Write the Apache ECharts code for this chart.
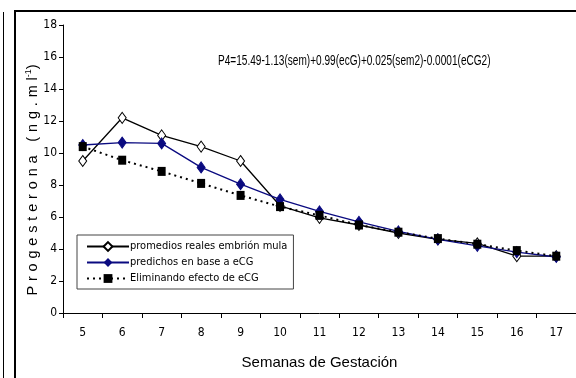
<!DOCTYPE html>
<html>
<head>
<meta charset="utf-8">
<script src="https://cdn.jsdelivr.net/npm/echarts@6/dist/echarts.min.js"></script>
<style>
  html, body { margin: 0; padding: 0; background: #fff; }
  #wrap { position: relative; width: 576px; height: 378px; overflow: hidden; }
  #chart { width: 576px; height: 378px; }
  #marco { position: absolute; left: 14px; top: 10px; width: 600px; height: 400px;
           border-left: 2px solid #000; border-top: 2px solid #000; pointer-events: none; }
  #borde { position: absolute; left: 3px; top: 12px; width: 1px; height: 400px;
           background: #000; pointer-events: none; }
</style>
</head>
<body>
<div id="wrap">
  <div id="chart"></div>
  <div id="marco"></div>
  <div id="borde"></div>
</div>
<script>
// semanas de gestacion
var semanas = ['5', '6', '7', '8', '9', '10', '11', '12', '13', '14', '15', '16', '17'];
// promedios reales embrion mula
var reales = [9.5, 12.2, 11.1, 10.4, 9.5, 6.7, 5.95, 5.5, 5.0, 4.6, 4.35, 3.55, 3.55];
// predichos en base a eCG
var predichos = [10.5, 10.65, 10.6, 9.1, 8.05, 7.1, 6.35, 5.7, 5.1, 4.6, 4.2, 3.8, 3.5];
// eliminando efecto de eCG
var eliminando = [10.4, 9.55, 8.85, 8.1, 7.35, 6.65, 6.1, 5.5, 5.05, 4.65, 4.3, 3.9, 3.55];

var nombres = ['promedios reales embrión mula', 'predichos en base a eCG', 'Eliminando efecto de eCG'];
var ecuacion = 'P4=15.49-1.13(sem)+0.99(ecG)+0.025(sem2)-0.0001(eCG2)';

var fuente = '"DejaVu Sans Condensed", "Liberation Sans Narrow", "Liberation Sans", Arial, sans-serif';
var fuenteArial = '"Liberation Sans", Arial, sans-serif';
var azul = '#0a0a80';

// titulo del eje y con letras separadas
function espaciar(s) {
  return s.split('').join('\u2004');
}

var chart = echarts.init(document.getElementById('chart'));
var option = {
  animation: false,
  textStyle: { fontFamily: fuenteArial },
  grid: { left: 63, top: 25, width: 516, height: 288 },
  legend: {
    orient: 'vertical',
    left: 77, top: 235,
    padding: [6, 6, 5, 9],
    itemGap: 5,
    itemWidth: 42, itemHeight: 11,
    borderColor: '#444', borderWidth: 1,
    backgroundColor: '#fff',
    textStyle: { fontFamily: fuente, fontSize: 11, color: '#000', padding: [0, 0, 0, -4] },
    data: nombres
  },
  xAxis: {
    type: 'category',
    data: semanas,
    boundaryGap: true,
    name: 'Semanas de Gestación',
    nameLocation: 'middle',
    nameGap: 42,
    nameMoveOverlap: false,
    nameTextStyle: { fontSize: 15, color: '#000', fontFamily: fuenteArial },
    axisLine: { lineStyle: { color: '#000', width: 1 } },
    axisTick: { show: true, length: 5, lineStyle: { color: '#000' } },
    axisLabel: { fontSize: 12, color: '#000', margin: 14, fontFamily: fuente },
    splitLine: { show: false }
  },
  yAxis: {
    type: 'value',
    min: 0, max: 18, interval: 2,
    name: espaciar('Progesterona (ng.ml') + '{sup|-1}' + ')',
    nameLocation: 'middle',
    nameGap: 22,
    nameMoveOverlap: false,
    nameRotate: 90,
    nameTextStyle: {
      fontSize: 14.5, color: '#000', fontFamily: fuenteArial,
      padding: [0, 22, 0, 0],
      rich: { sup: { fontSize: 9, verticalAlign: 'top', color: '#000', padding: [0, 0, 8, 0] } }
    },
    axisLine: { show: true, lineStyle: { color: '#000', width: 1 } },
    axisTick: { show: true, length: 4, lineStyle: { color: '#000' } },
    axisLabel: { fontSize: 12, color: '#000', margin: 6, fontFamily: fuente },
    splitLine: { show: false }
  },
  graphic: [
    {
      id: 'ecuacion',
      type: 'text', x: 218, y: 54, scaleX: 0.72,
      style: { text: ecuacion, fontSize: 14, fontFamily: fuenteArial, fill: '#000' }
    }
  ],
  series: [
    {
      name: nombres[0],
      type: 'line',
      data: reales,
      symbol: 'diamond',
      symbolSize: [8, 11],
      color: '#000',
      lineStyle: { color: '#000', width: 1.3 },
      itemStyle: { color: '#fff', borderColor: '#000', borderWidth: 1 },
      z: 3
    },
    {
      name: nombres[1],
      type: 'line',
      data: predichos,
      symbol: 'diamond',
      symbolSize: [8, 11],
      color: azul,
      lineStyle: { color: azul, width: 1.3 },
      itemStyle: { color: azul, borderColor: azul },
      z: 4
    },
    {
      name: nombres[2],
      type: 'line',
      data: eliminando,
      symbol: 'rect',
      symbolSize: [8, 9],
      color: '#000',
      lineStyle: { color: '#000', width: 2, type: [2, 4] },
      itemStyle: { color: '#000' },
      z: 5
    }
  ]
};
chart.setOption(option);
</script>
</body>
</html>
